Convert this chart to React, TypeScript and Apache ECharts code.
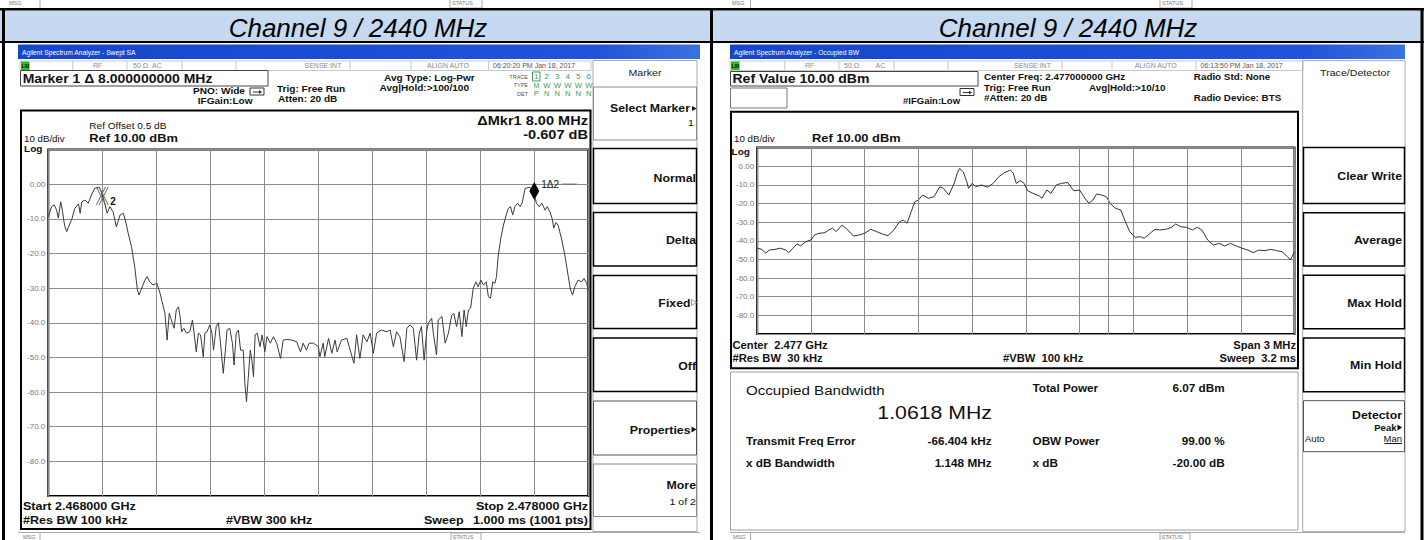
import React, { useEffect, useRef } from 'react';
import * as echarts from 'echarts';

const FONT = '"Liberation Sans", Arial, Helvetica, sans-serif';
const SX = 1.12;

// ---------------- data ----------------
const TITLE_TEXT = 'Channel 9 / 2440 MHz';

// Left: swept SA, 2.468 – 2.478 GHz, offsets from start in MHz
const leftSpanMHz = 10;
const leftOffsetMHz = [
  0.0, 0.06, 0.11, 0.155, 0.185, 0.23, 0.26, 0.3, 0.34, 0.39, 0.44, 0.49, 0.56, 0.59, 0.62, 0.68, 0.74, 0.8, 0.86, 0.93,
  0.97, 1.03, 1.09, 1.14, 1.2, 1.26, 1.33, 1.39, 1.44, 1.48, 1.54, 1.6, 1.65, 1.68, 1.73, 1.79, 1.83, 1.88, 1.94, 2.01,
  2.07, 2.13, 2.16, 2.2, 2.24, 2.28, 2.33, 2.37, 2.41, 2.44, 2.47, 2.51, 2.56, 2.62, 2.67, 2.7, 2.74, 2.78, 2.82, 2.87,
  2.9, 2.94, 2.99, 3.03, 3.06, 3.11, 3.15, 3.19, 3.24, 3.28, 3.31, 3.36, 3.41, 3.44, 3.48, 3.52, 3.56, 3.61, 3.64, 3.67,
  3.7, 3.74, 3.77, 3.8, 3.83, 3.87, 3.92, 3.96, 4.01, 4.05, 4.11, 4.17, 4.23, 4.3, 4.35, 4.42, 4.51, 4.6, 4.67, 4.72,
  4.78, 4.83, 4.91, 5.0, 5.03, 5.09, 5.12, 5.19, 5.25, 5.31, 5.35, 5.43, 5.53, 5.59, 5.66, 5.71, 5.77, 5.83, 5.9, 5.96,
  6.02, 6.08, 6.17, 6.27, 6.33, 6.39, 6.45, 6.51, 6.59, 6.64, 6.7, 6.76, 6.82, 6.87, 6.91, 6.96, 7.01, 7.04, 7.1, 7.13,
  7.19, 7.22, 7.29, 7.35, 7.41, 7.47, 7.51, 7.56, 7.61, 7.66, 7.7, 7.74, 7.78, 7.82, 7.87, 7.92, 7.96, 8.01, 8.06, 8.11,
  8.15, 8.19, 8.23, 8.27, 8.3, 8.33, 8.38, 8.43, 8.48, 8.52, 8.56, 8.6, 8.64, 8.69, 8.74, 8.78, 8.83, 8.92, 8.98, 9.04,
  9.09, 9.14, 9.2, 9.24, 9.29, 9.33, 9.36, 9.4, 9.44, 9.51, 9.57, 9.63, 9.67, 9.71, 9.75, 9.81, 9.88, 9.92, 9.97, 10.0,
];
const leftLevelDbm = [
  -9.4, -6.5, -6.0, -7.5, -9.8, -5.1, -7.5, -11.8, -13.7, -11.8, -9.9, -7.0, -5.7, -8.4, -5.1, -4.6, -5.5, -3.1, -1.2, -0.9,
  -1.7, -4.6, -8.4, -6.5, -8.0, -12.3, -8.9, -8.4, -11.3, -14.2, -18.0, -23.8, -30.5, -32.0, -30.0, -27.7, -26.7, -28.2, -29.1, -28.6,
  -31.5, -35.4, -37.3, -45.0, -37.3, -39.2, -41.6, -36.3, -35.4, -38.2, -42.6, -41.6, -43.0, -42.6, -39.2, -43.0, -48.4, -43.0, -43.5, -49.8,
  -43.0, -42.6, -40.6, -43.0, -47.9, -41.1, -40.0, -45.9, -54.6, -47.9, -42.1, -41.6, -45.9, -52.2, -43.0, -42.1, -47.9, -47.9, -57.5, -62.8,
  -56.5, -47.9, -50.8, -55.6, -43.5, -43.0, -46.9, -43.5, -48.4, -44.0, -45.9, -44.0, -45.9, -50.3, -45.0, -44.8, -45.0, -45.5, -48.4, -45.9,
  -47.9, -45.9, -45.9, -46.9, -49.8, -45.9, -49.8, -44.5, -48.8, -45.0, -48.4, -45.0, -44.5, -47.9, -51.7, -43.5, -50.3, -43.5, -45.5, -43.0,
  -48.8, -43.0, -42.1, -42.6, -42.1, -46.9, -42.6, -44.0, -51.2, -41.6, -40.6, -41.6, -50.8, -43.0, -41.1, -50.8, -42.1, -40.1, -38.7, -43.0,
  -49.3, -39.2, -38.2, -45.9, -43.0, -37.8, -37.3, -41.1, -36.8, -44.0, -36.3, -41.1, -36.3, -35.8, -30.0, -28.2, -29.6, -27.7, -29.1, -28.2,
  -32.5, -32.9, -28.2, -28.6, -26.7, -20.9, -15.6, -11.8, -8.9, -7.0, -6.5, -8.9, -6.5, -5.5, -6.5, -5.1, -1.2, -0.9, -2.2, -5.5,
  -6.5, -5.5, -7.5, -6.5, -8.0, -9.9, -12.7, -11.1, -11.8, -16.1, -20.9, -26.7, -30.5, -32.0, -29.6, -27.7, -28.2, -27.2, -28.6, -30.5,
];
const markerOffsetMHz = [9.0, 1.0]; // marker 1, marker 2 (delta reference)
const markerLevelDbm = [-2.0, -3.4];

// Right: occupied BW, centre 2.477 GHz, span 3 MHz, offsets from start in MHz
const rightSpanMHz = 3;
const rightOffsetMHz = [
  0.0, 0.026, 0.047, 0.068, 0.1, 0.13, 0.16, 0.175, 0.2, 0.222, 0.243, 0.27, 0.3, 0.32, 0.346, 0.378, 0.4, 0.42, 0.44, 0.474,
  0.506, 0.538, 0.57, 0.6, 0.634, 0.667, 0.7, 0.73, 0.763, 0.795, 0.816, 0.837, 0.86, 0.88, 0.9, 0.923, 0.955, 0.987, 1.02, 1.04,
  1.07, 1.1, 1.117, 1.13, 1.15, 1.17, 1.18, 1.2, 1.22, 1.254, 1.286, 1.318, 1.35, 1.38, 1.414, 1.43, 1.446, 1.47, 1.49, 1.51,
  1.54, 1.575, 1.59, 1.617, 1.64, 1.67, 1.7, 1.734, 1.767, 1.8, 1.83, 1.852, 1.874, 1.895, 1.923, 1.95, 1.97, 2.0, 2.03, 2.056,
  2.08, 2.11, 2.14, 2.16, 2.194, 2.22, 2.248, 2.28, 2.31, 2.337, 2.365, 2.397, 2.43, 2.457, 2.483, 2.515, 2.547, 2.58, 2.61, 2.643,
  2.675, 2.707, 2.74, 2.77, 2.8, 2.835, 2.867, 2.9, 2.93, 2.962, 2.977, 3.0,
];
const rightLevelDbm = [
  -44.0, -44.6, -46.7, -45.0, -44.6, -44.0, -45.0, -46.4, -44.0, -41.7, -42.8, -40.5, -39.6, -36.9, -36.0, -35.7, -34.2, -33.3, -35.1, -31.6,
  -34.2, -37.5, -36.9, -36.0, -33.9, -35.1, -36.4, -37.3, -34.2, -29.8, -28.9, -30.6, -24.4, -19.1, -18.2, -15.5, -17.2, -16.4, -11.0, -11.9,
  -15.5, -9.2, -3.8, -1.2, -3.0, -8.3, -11.9, -9.2, -11.0, -10.1, -11.3, -9.2, -5.6, -3.5, -2.1, -3.8, -9.2, -7.8, -9.2, -13.2,
  -14.6, -16.0, -17.2, -12.8, -14.6, -10.1, -9.2, -8.8, -13.2, -12.8, -17.2, -19.9, -18.2, -14.9, -15.5, -16.4, -19.9, -22.6, -23.5, -29.8,
  -35.1, -38.2, -37.8, -38.7, -36.0, -33.9, -34.2, -33.9, -33.0, -31.0, -32.5, -32.8, -34.2, -32.8, -34.2, -39.6, -42.3, -41.4, -42.8, -41.4,
  -42.8, -44.0, -45.0, -46.4, -45.0, -45.3, -44.6, -45.3, -45.9, -48.6, -50.3, -45.9,
];
const obwMHz = 1.0618;
const freqErrorKHz = -66.404;

// y axis: 10 dB/div, ref 10 dBm
const refLevelDbm = 10;
const dbPerDiv = 10;
const divisions = 10;

export default function App() {
  const ref = useRef<HTMLDivElement>(null);

  useEffect(() => {
    if (!ref.current) return;
    const chart = echarts.init(ref.current, undefined, { renderer: 'svg', width: 1424, height: 540 });

    const els: any[] = [];
    const T = (x: number, base: number, text: string, size: number, o: any = {}) =>
      els.push({
        type: 'text', x, y: base - size * 0.35, scaleX: o.sx ?? SX, silent: true, z: 10,
        style: {
          x: 0, y: 0, text, fill: o.color ?? '#111', fontSize: size,
          fontWeight: o.bold ? 'bold' : 'normal', fontStyle: o.italic ? 'italic' : 'normal',
          fontFamily: FONT, align: o.align ?? 'left', verticalAlign: 'middle',
        },
      });
    const R = (x: number, y: number, w: number, h: number, o: any = {}) =>
      els.push({
        type: 'rect', silent: true, z: o.z ?? 5, shape: { x, y, width: w, height: h },
        style: { fill: o.fill ?? 'none', stroke: o.stroke ?? null, lineWidth: o.lw ?? 1 },
      });
    const L = (x1: number, y1: number, x2: number, y2: number, stroke = '#aaa', lw = 1) =>
      els.push({ type: 'line', silent: true, z: 5, shape: { x1, y1, x2, y2 }, style: { stroke, lineWidth: lw } });
    const P = (pts: number[][], fill: string | null, stroke: string | null = null) =>
      els.push({ type: 'polygon', silent: true, z: 6, shape: { points: pts }, style: { fill: fill ?? 'none', stroke, lineWidth: 1 } });

    // ---------- table chrome ----------
    T(9, 5, 'MSG', 5.5, { color: '#777', sx: 1 });
    L(40, 0, 40, 8);
    R(450, -1, 32, 9, { stroke: '#aaa' });
    T(452, 5, 'STATUS', 5.5, { color: '#777', sx: 1 });
    T(732, 5, 'MSG', 5.5, { color: '#777', sx: 1 });
    L(750.5, 0, 750.5, 8);
    R(1160, -1, 32, 9, { stroke: '#aaa' });
    T(1162, 5, 'STATUS', 5.5, { color: '#777', sx: 1 });

    R(0, 10.5, 1424, 30.5, { fill: '#c6d9f1' });
    R(0, 8, 1424, 2.5, { fill: '#000' });
    R(0, 41, 1424, 2, { fill: '#000' });
    R(2, 8, 3, 532, { fill: '#000' });
    R(710, 8, 3, 532, { fill: '#000' });
    R(1420.5, 8, 3, 532, { fill: '#000' });
    T(358, 37.5, TITLE_TEXT, 26, { italic: true, align: 'center', sx: 1, color: '#000' });
    T(1068, 37.5, TITLE_TEXT, 26, { italic: true, align: 'center', sx: 1, color: '#000' });

    const titleGrad = () =>
      new echarts.graphic.LinearGradient(0, 0, 1, 0, [
        { offset: 0, color: '#1546c8' },
        { offset: 0.85, color: '#1f55d6' },
        { offset: 1, color: '#3a72e0' },
      ]);

    // generic analyzer header pieces
    const statusRow = (x0: number, x1: number, seps: number[], texts: [number, string][], date: [number, string]) => {
      R(x0, 61, x1 - x0, 9.5, { stroke: '#c8c8c8' });
      seps.forEach((s) => L(s, 61, s, 70.5, '#c8c8c8'));
      R(x0 + 1, 61.5, 8.5, 8.5, { fill: '#22c322' });
      T(x0 + 1.5, 68.3, 'LXI', 5.5, { bold: true, sx: 0.9, color: '#000' });
      texts.forEach(([x, t]) => T(x, 68.3, t, 7, { color: '#8a8a8a', sx: 1 }));
      T(date[0], 68.3, date[1], 7, { color: '#555', sx: 1 });
    };
    const icon = (x: number, y: number) => {
      R(x, y, 14, 7, { stroke: '#333' });
      L(x + 3, y + 4, x + 11, y + 4, '#333');
      P([[x + 9, y + 2], [x + 12, y + 4], [x + 9, y + 6]], '#333');
    };
    const bottomStrip = (x0: number, x1: number, msgX: number, lineX: number, stX: number) => {
      L(x0, 532.5, x1, 532.5, '#aaa');
      T(msgX, 538.8, 'MSG', 5.5, { color: '#777', sx: 1 });
      L(lineX, 533, lineX, 540, '#aaa');
      R(stX, 533, 30, 9, { stroke: '#aaa' });
      T(stX + 1.5, 538.8, 'STATUS', 5.5, { color: '#777', sx: 1 });
    };
    const softBox = (x: number, y: number, w: number, h: number, thick: boolean, stroke = '#888') =>
      R(x, y, w, h, { stroke: thick ? '#000' : stroke, lw: thick ? 1.5 : 1 });

    // ---------- LEFT analyzer ----------
    R(18, 44.5, 682, 14.5, { fill: titleGrad() });
    T(22, 55.3, 'Agilent Spectrum Analyzer - Swept SA', 7.6, { color: '#fff', sx: 0.88 });
    statusRow(20, 591, [72.7, 127, 182, 236, 350, 411, 488.6],
      [[93, 'RF'], [133, '50 Ω'], [152, 'AC'], [304.5, 'SENSE:INT'], [427, 'ALIGN AUTO']],
      [493, '06:20:20 PM Jan 18, 2017']);
    R(20.5, 70.5, 247.5, 15.5, { stroke: '#444' });
    T(22.7, 83.3, 'Marker 1 Δ 8.000000000 MHz', 12.5, { bold: true });
    T(193, 94, 'PNO: Wide', 9, { bold: true });
    icon(250, 88);
    T(197.7, 104, 'IFGain:Low', 9, { bold: true });
    T(277, 91.7, 'Trig: Free Run', 9, { bold: true });
    T(278, 101.7, 'Atten: 20 dB', 9, { bold: true });
    T(384, 81, 'Avg Type: Log-Pwr', 9, { bold: true });
    T(379.5, 91, 'Avg|Hold:>100/100', 9, { bold: true });
    T(528, 79.3, 'TRACE', 5.5, { align: 'right', color: '#555', sx: 1 });
    T(528, 87.3, 'TYPE', 5.5, { align: 'right', color: '#555', sx: 1 });
    T(528, 95.7, 'DET', 5.5, { align: 'right', color: '#555', sx: 1 });
    R(532.5, 72, 7.5, 9, { stroke: '#3c9a5f' });
    ['1', '2', '3', '4', '5', '6'].forEach((d, i) => T(536.3 + i * 10.5, 79.6, d, 8, { align: 'center', color: '#3c9a5f', sx: 1 }));
    ['M', 'W', 'W', 'W', 'W', 'W'].forEach((d, i) => T(536.3 + i * 10.5, 87.6, d, 7, { align: 'center', color: '#3c9a5f', sx: i ? 1.1 : 1 }));
    ['P', 'N', 'N', 'N', 'N', 'N'].forEach((d, i) => T(536.3 + i * 10.5, 96, d, 7.5, { align: 'center', color: '#3c9a5f', sx: 1 }));

    R(21, 110.5, 569.5, 418.5, { stroke: '#000', lw: 2 });
    T(89.3, 129, 'Ref Offset 0.5 dB', 9);
    T(24, 142.7, '10 dB/div', 8.7);
    T(89.3, 142.7, 'Ref 10.00 dBm', 11.5, { bold: true });
    T(24, 152, 'Log', 9, { bold: true });
    T(588, 125, 'ΔMkr1 8.00 MHz', 13, { bold: true, align: 'right' });
    T(588, 139.3, '-0.607 dB', 13, { bold: true, align: 'right' });
    T(23, 510, 'Start 2.468000 GHz', 11.2, { bold: true });
    T(23, 524, '#Res BW 100 kHz', 11.2, { bold: true });
    T(226, 524, '#VBW 300 kHz', 11.2, { bold: true });
    T(588, 510, 'Stop 2.478000 GHz', 11.2, { bold: true, align: 'right' });
    T(424, 524, 'Sweep', 11.2, { bold: true });
    T(588, 524, '1.000 ms (1001 pts)', 11.2, { bold: true, align: 'right' });
    bottomStrip(18, 700, 23, 40, 451);

    // left softkeys
    R(593, 60.5, 104, 471, { stroke: '#a8a8a8' });
    T(645, 76, 'Marker', 9.5, { align: 'center', color: '#222' });
    softBox(593.5, 87, 103, 53, false);
    softBox(593.5, 148.5, 103, 55, true);
    softBox(593.5, 212.5, 103, 53.5, true);
    softBox(593.5, 275.5, 103, 53, true);
    softBox(593.5, 338, 103, 53.5, true);
    softBox(593.5, 401, 103, 54, false, '#555');
    softBox(593.5, 464, 103, 52.5, false);
    T(690, 111.7, 'Select Marker', 11, { bold: true, align: 'right' });
    P([[692, 106], [696.5, 108.5], [692, 111]], '#111');
    T(694, 126, '1', 9.5, { align: 'right' });
    T(696, 181.7, 'Normal', 11, { bold: true, align: 'right' });
    T(696, 243.3, 'Delta', 11, { bold: true, align: 'right' });
    T(690.5, 306.7, 'Fixed', 11, { bold: true, align: 'right' });
    P([[691.5, 299.5], [696.5, 302.5], [691.5, 305.5]], null, '#999');
    T(696, 370, 'Off', 11, { bold: true, align: 'right' });
    T(690.5, 433.3, 'Properties', 11, { bold: true, align: 'right' });
    P([[691.5, 426.5], [696.5, 429.5], [691.5, 432.5]], '#111');
    T(696, 488.3, 'More', 11, { bold: true, align: 'right' });
    T(696, 505, '1 of 2', 9.5, { align: 'right' });

    // ---------- RIGHT analyzer ----------
    R(730, 44.5, 675, 14.5, { fill: titleGrad() });
    T(734, 55.3, 'Agilent Spectrum Analyzer - Occupied BW', 7.6, { color: '#fff', sx: 0.88 });
    statusRow(730, 1303, [784.7, 839, 894, 948, 1062, 1112, 1196],
      [[805, 'RF'], [844, '50 Ω'], [875.6, 'AC'], [1014, 'SENSE:INT'], [1134.7, 'ALIGN AUTO']],
      [1200.6, '06:13:50 PM Jan 18, 2017']);
    R(730.5, 71.5, 247.5, 14.5, { stroke: '#444' });
    T(732.5, 83.3, 'Ref Value 10.00 dBm', 12.5, { bold: true });
    R(730.5, 88, 56.5, 20, { stroke: '#777' });
    icon(960, 88.5);
    T(903, 104, '#IFGain:Low', 8.5, { bold: true });
    T(984, 80, 'Center Freq: 2.477000000 GHz', 8.8, { bold: true });
    T(984, 91.7, 'Trig: Free Run', 8.8, { bold: true });
    T(984, 101.7, '#Atten: 20 dB', 8.8, { bold: true });
    T(1089, 91.7, 'Avg|Hold:>10/10', 8.8, { bold: true });
    T(1193.8, 80, 'Radio Std: None', 8.8, { bold: true });
    T(1193.8, 101.7, 'Radio Device: BTS', 8.8, { bold: true });

    R(731, 111.7, 567, 256.6, { stroke: '#000', lw: 2 });
    T(734, 142.7, '10 dB/div', 8.7);
    T(812, 142.7, 'Ref 10.00 dBm', 11.5, { bold: true });
    T(731.5, 155, 'Log', 9, { bold: true });
    T(732.5, 348.3, 'Center  2.477 GHz', 10, { bold: true });
    T(732.5, 361.7, '#Res BW  30 kHz', 10, { bold: true });
    T(1003, 361.7, '#VBW  100 kHz', 10, { bold: true });
    T(1296, 348.3, 'Span 3 MHz', 10, { bold: true, align: 'right' });
    T(1296, 361.7, 'Sweep  3.2 ms', 10, { bold: true, align: 'right' });

    R(730.5, 372, 567.5, 158, { stroke: '#a0a0a0' });
    T(746, 395, 'Occupied Bandwidth', 13.5, { color: '#111' });
    T(992, 419.3, obwMHz.toFixed(4) + ' MHz', 19, { align: 'right' });
    T(1032.5, 391.7, 'Total Power', 10.5, { bold: true });
    T(1224.7, 391.7, '6.07 dBm', 10.5, { bold: true, align: 'right' });
    T(746, 445, 'Transmit Freq Error', 10.5, { bold: true });
    T(991.5, 445, freqErrorKHz.toFixed(3) + ' kHz', 10.5, { bold: true, align: 'right' });
    T(1032.5, 445, 'OBW Power', 10.5, { bold: true });
    T(1224.7, 445, '99.00 %', 10.5, { bold: true, align: 'right' });
    T(746, 467.3, 'x dB Bandwidth', 10.5, { bold: true });
    T(991.5, 467.3, '1.148 MHz', 10.5, { bold: true, align: 'right' });
    T(1032.5, 467.3, 'x dB', 10.5, { bold: true });
    T(1224.7, 467.3, '-20.00 dB', 10.5, { bold: true, align: 'right' });
    bottomStrip(730, 1405, 733, 750.6, 1160);

    // right softkeys
    R(1302.7, 60.7, 102.3, 471, { stroke: '#a8a8a8' });
    T(1355, 76, 'Trace/Detector', 9.5, { align: 'center', color: '#222' });
    softBox(1303.5, 147.5, 101, 56, true);
    softBox(1303.5, 212.7, 101, 53.3, true);
    softBox(1303.5, 275.3, 101, 53.4, true);
    softBox(1303.5, 338, 101, 53.7, true);
    softBox(1303.5, 400.7, 101, 51, false, '#555');
    T(1402, 180, 'Clear Write', 11, { bold: true, align: 'right' });
    T(1402, 243.3, 'Average', 11, { bold: true, align: 'right' });
    T(1402, 306.7, 'Max Hold', 11, { bold: true, align: 'right' });
    T(1402, 368.3, 'Min Hold', 11, { bold: true, align: 'right' });
    T(1402, 418.3, 'Detector', 11, { bold: true, align: 'right' });
    T(1396.5, 430.7, 'Peak', 8.5, { bold: true, align: 'right' });
    P([[1397.5, 424.5], [1402, 427.5], [1397.5, 430.5]], '#111');
    T(1305, 441.7, 'Auto', 8.5);
    T(1402, 441.7, 'Man', 8.5, { align: 'right' });
    L(1384.5, 443.5, 1402, 443.5, '#111', 1);

    // ---------- plots ----------
    const leftData = leftOffsetMHz.map((x, i) => [x, leftLevelDbm[i]]);
    const rightData = rightOffsetMHz.map((x, i) => [x, rightLevelDbm[i]]);
    const yMin = refLevelDbm - dbPerDiv * divisions;
    const yFmt = (v: number) => (v === refLevelDbm || v === yMin ? '' : v === 0 ? '0.00' : v.toFixed(1));
    const obwCenter = rightSpanMHz / 2 + freqErrorKHz / 1000;

    const gridCommon = { show: true, borderColor: '#000', borderWidth: 2, backgroundColor: '#fff' };
    const splitLine = { show: true, lineStyle: { color: '#8c8c8c', width: 1 } };
    const xCommon = {
      type: 'value', axisLine: { show: false }, axisTick: { show: false }, axisLabel: { show: false }, splitLine,
    };
    const yCommon = {
      type: 'value', min: yMin, max: refLevelDbm, interval: dbPerDiv,
      axisLine: { show: false }, axisTick: { show: false }, splitLine,
      axisLabel: { formatter: yFmt, color: '#7a7a7a', fontSize: 8, margin: 3, fontFamily: FONT },
    };

    chart.setOption({
      animation: false,
      backgroundColor: '#fff',
      grid: [
        { ...gridCommon, left: 48.3, top: 149.5, width: 540, height: 346.5 },
        { ...gridCommon, left: 757.2, top: 147.5, width: 537.3, height: 186.5 },
      ],
      xAxis: [
        { ...xCommon, gridIndex: 0, min: 0, max: leftSpanMHz, interval: leftSpanMHz / divisions },
        { ...xCommon, gridIndex: 1, min: 0, max: rightSpanMHz, interval: rightSpanMHz / divisions },
      ],
      yAxis: [
        { ...yCommon, gridIndex: 0 },
        { ...yCommon, gridIndex: 1 },
      ],
      series: [
        {
          type: 'line', xAxisIndex: 0, yAxisIndex: 0, data: leftData, symbol: 'none', silent: true,
          lineStyle: { color: '#3a3a3a', width: 1 },
          markPoint: {
            silent: true,
            data: [
              {
                coord: [markerOffsetMHz[0], markerLevelDbm[0]], symbol: 'diamond', symbolSize: [10, 18],
                itemStyle: { color: '#000' },
                label: {
                  show: true, position: 'right', distance: 2, offset: [0, -7], formatter: '1Δ2 {l|}',
                  color: '#111', fontSize: 10, fontFamily: FONT,
                  rich: { l: { width: 15, height: 1, backgroundColor: '#666' } },
                },
              },
              {
                coord: [markerOffsetMHz[1], markerLevelDbm[1]],
                symbol: 'path://M1,0L11,20M4,0L14,20M11,0L1,20M14,0L4,20', symbolSize: [12, 18],
                itemStyle: { color: 'none', borderColor: '#666', borderWidth: 1 },
                label: {
                  show: true, position: 'right', distance: 0, offset: [0, 6], formatter: '2',
                  color: '#111', fontSize: 10, fontWeight: 'bold', fontFamily: FONT,
                },
              },
            ],
          },
        },
        {
          type: 'line', xAxisIndex: 1, yAxisIndex: 1, data: rightData, symbol: 'none', silent: true,
          lineStyle: { color: '#333', width: 1 },
          markLine: {
            silent: true, symbol: ['none', 'none'], label: { show: false },
            lineStyle: { color: '#8c8c8c', width: 1, type: 'solid' },
            data: [{ xAxis: obwCenter - obwMHz / 2 }, { xAxis: obwCenter + obwMHz / 2 }],
          },
        },
      ],
      graphic: { elements: els },
    });

    return () => chart.dispose();
  }, []);

  return <div ref={ref} style={{ position: 'absolute', left: 0, top: 0, width: 1424, height: 540 }} />;
}
